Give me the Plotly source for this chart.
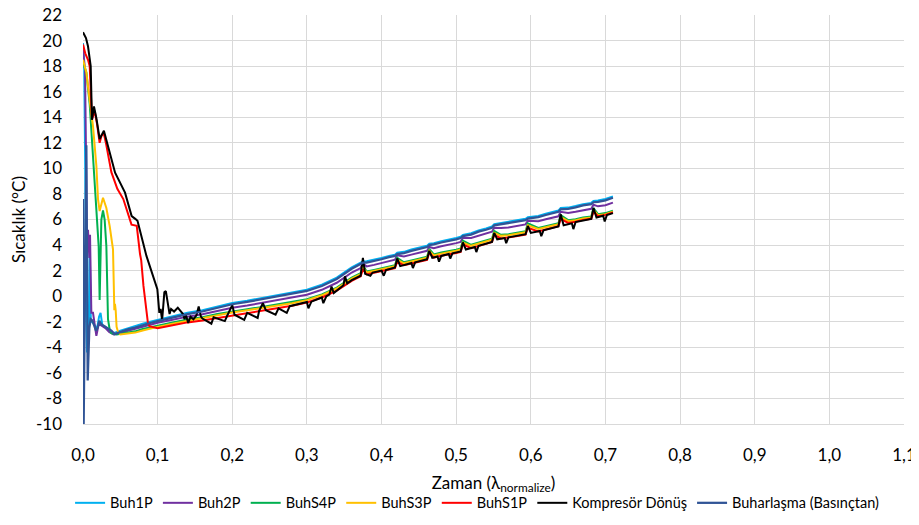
import plotly.graph_objects as go

# ---------------- data ----------------
x_tick_vals = [0.0, 0.1, 0.2, 0.3, 0.4, 0.5, 0.6, 0.7, 0.8, 0.9, 1.0, 1.1]
x_tick_text = ["0,0", "0,1", "0,2", "0,3", "0,4", "0,5", "0,6", "0,7", "0,8", "0,9", "1,0", "1,1"]
y_tick_vals = [-10, -8, -6, -4, -2, 0, 2, 4, 6, 8, 10, 12, 14, 16, 18, 20, 22]
y_tick_text = ["-10", "-8", "-6", "-4", "-2", "0", "2", "4", "6", "8", "10", "12", "14", "16", "18", "20", "22"]

series_names = ["Buh1P", "Buh2P", "BuhS4P", "BuhS3P", "BuhS1P", "Kompresör Dönüş", "Buharlaşma (Basınçtan)"]

# shared time grid for the slowly rising part
t_tail = [0.05, 0.06, 0.07, 0.08, 0.09, 0.10, 0.12, 0.14, 0.16, 0.18,
          0.20, 0.22, 0.24, 0.26, 0.28, 0.30, 0.32, 0.34, 0.36, 0.372,
          0.375, 0.38, 0.39, 0.40, 0.41, 0.418, 0.421, 0.43, 0.44, 0.45,
          0.461, 0.464, 0.47, 0.48, 0.49, 0.50, 0.506, 0.509, 0.52, 0.53,
          0.54, 0.548, 0.551, 0.56, 0.57, 0.58, 0.593, 0.596, 0.61, 0.62,
          0.63, 0.637, 0.640, 0.65, 0.66, 0.67, 0.681, 0.684, 0.69, 0.70,
          0.71]

# Buh1P
buh1p_early_t = [0.0, 0.0015, 0.003, 0.004, 0.0054, 0.0067, 0.0075, 0.009, 0.0105, 0.012,
                 0.016, 0.019, 0.0215, 0.0235, 0.026, 0.03, 0.035, 0.041]
buh1p_early_v = [19.8, 18.5, 10.0, -1.0, -4.4, -2.0, -3.5, 4.0, -2.0, -2.0,
                 -2.3, -2.5, -1.6, -1.3, -2.3, -2.4, -2.7, -2.9]
buh1p_tail = [-2.70, -2.50, -2.35, -2.15, -2.00, -1.85, -1.57, -1.30, -1.10, -0.80,
              -0.53, -0.35, -0.15, 0.05, 0.25, 0.51, 0.90, 1.45, 2.25, 2.60,
              2.72, 2.73, 2.85, 2.99, 3.15, 3.25, 3.40, 3.47, 3.65, 3.80,
              3.95, 4.10, 4.15, 4.30, 4.40, 4.55, 4.65, 4.80, 4.92, 5.15,
              5.30, 5.45, 5.64, 5.72, 5.80, 5.90, 6.05, 6.17, 6.28, 6.45,
              6.60, 6.70, 6.90, 6.93, 7.05, 7.20, 7.30, 7.45, 7.48, 7.60,
              7.80]

# Buh2P
buh2p_early_t = [0.0, 0.0027, 0.004, 0.0054, 0.0067, 0.0085, 0.0094, 0.0112, 0.0134, 0.017,
                 0.0179, 0.021, 0.025, 0.03, 0.035, 0.041]
buh2p_early_v = [19.3, 17.7, 11.3, 3.4, 5.2, 3.0, 4.8, -1.3, -1.3, -2.5,
                 -3.1, -2.2, -2.3, -2.5, -2.8, -3.0]
buh2p_tail = [-2.90, -2.70, -2.55, -2.37, -2.22, -2.08, -1.85, -1.60, -1.42, -1.15,
              -0.90, -0.73, -0.53, -0.33, -0.14, 0.11, 0.50, 1.05, 1.85, 2.20,
              2.55, 2.33, 2.45, 2.59, 2.75, 2.85, 3.20, 3.10, 3.25, 3.40,
              3.55, 3.85, 3.75, 3.90, 4.00, 4.15, 4.25, 4.55, 4.55, 4.75,
              4.90, 5.05, 5.35, 5.33, 5.38, 5.48, 5.62, 5.90, 5.87, 6.02,
              6.17, 6.25, 6.60, 6.50, 6.60, 6.74, 6.84, 7.15, 7.03, 7.12,
              7.32]

# BuhS4P
s4p_early_t = [0.0, 0.0045, 0.009, 0.0112, 0.0134, 0.0156, 0.0192, 0.021, 0.0223, 0.0246,
               0.0268, 0.029, 0.0313, 0.0326, 0.0335, 0.0357, 0.038, 0.045]
s4p_early_v = [18.3, 17.5, 15.0, 13.0, 11.5, 9.7, 6.0, 3.9, -0.3, 6.0,
               6.7, 6.0, 3.9, -0.47, -1.8, -2.6, -2.9, -3.0]
s4p_tail = [-2.95, -2.85, -2.75, -2.57, -2.43, -2.30, -2.05, -1.82, -1.65, -1.40,
            -1.18, -1.02, -0.84, -0.66, -0.48, -0.24, 0.14, 0.67, 1.45, 1.80,
            2.45, 1.93, 2.05, 2.18, 2.33, 2.42, 3.00, 2.65, 2.80, 2.94,
            3.08, 3.70, 3.27, 3.41, 3.50, 3.64, 3.73, 4.35, 4.02, 4.21,
            4.35, 4.50, 5.10, 4.80, 4.85, 4.94, 5.08, 5.70, 5.34, 5.48,
            5.62, 5.71, 6.35, 5.95, 6.03, 6.16, 6.24, 6.90, 6.42, 6.50,
            6.68]

# BuhS3P
s3p_early_t = [0.0, 0.0045, 0.009, 0.0134, 0.0179, 0.0201, 0.0223, 0.0268, 0.0313, 0.0357,
               0.0402, 0.0411, 0.042, 0.0428, 0.0438, 0.045, 0.047]
s3p_early_v = [18.5, 17.5, 15.3, 13.3, 10.2, 7.6, 6.66, 7.7, 6.9, 5.5,
               3.67, -0.5, -1.1, -0.6, -1.1, -2.4, -2.8]
s3p_tail = [-3.00, -2.95, -2.85, -2.68, -2.53, -2.40, -2.15, -1.92, -1.75, -1.50,
            -1.28, -1.10, -0.92, -0.74, -0.55, -0.31, 0.07, 0.60, 1.37, 1.72,
            2.30, 1.85, 1.97, 2.10, 2.25, 2.34, 2.85, 2.57, 2.72, 2.86,
            3.00, 3.55, 3.19, 3.33, 3.42, 3.56, 3.65, 4.20, 3.94, 4.13,
            4.27, 4.42, 4.95, 4.72, 4.77, 4.86, 5.00, 5.55, 5.26, 5.40,
            5.54, 5.63, 6.20, 5.87, 5.95, 6.08, 6.16, 6.75, 6.34, 6.42,
            6.62]

# BuhS1P (tail starts at t = 0.10)
s1p_early_t = [0.0, 0.003, 0.0067, 0.009, 0.012, 0.0156, 0.019, 0.0223, 0.025, 0.028,
               0.031, 0.038, 0.046, 0.054, 0.065, 0.072, 0.0764, 0.078, 0.081, 0.0826,
               0.0845, 0.0857, 0.087, 0.089]
s1p_early_v = [19.7, 19.0, 18.5, 18.0, 13.8, 14.5, 13.4, 12.0, 12.6, 12.7,
               11.9, 9.7, 8.4, 7.6, 5.6, 5.5, 3.3, 2.8, 0.8, 0.0,
               -0.9, -1.45, -2.1, -2.35]
s1p_tail = [-2.50, -2.27, -2.05, -1.90, -1.70,
            -1.53, -1.35, -1.15, -0.95, -0.75, -0.49, -0.10, 0.43, 1.20, 1.55,
            2.10, 1.70, 1.82, 1.95, 2.10, 2.20, 2.70, 2.42, 2.56, 2.70,
            2.84, 3.40, 3.02, 3.16, 3.25, 3.38, 3.47, 4.05, 3.75, 3.95,
            4.09, 4.24, 4.80, 4.52, 4.58, 4.68, 4.82, 5.35, 5.06, 5.22,
            5.38, 5.47, 6.05, 5.73, 5.82, 5.97, 6.06, 6.60, 6.26, 6.36,
            6.55]

# Kompresör Dönüş (own time grid)
komp_t = [0.0, 0.004, 0.0067, 0.0103, 0.012, 0.0147, 0.018, 0.0223, 0.028, 0.033,
          0.038, 0.043, 0.0563, 0.0652, 0.07, 0.073, 0.085, 0.0942, 0.0996, 0.1023,
          0.104, 0.106, 0.1075, 0.109, 0.111, 0.113, 0.116, 0.118, 0.122, 0.127,
          0.13, 0.134, 0.136, 0.138, 0.141, 0.144, 0.148, 0.152, 0.155, 0.158,
          0.16, 0.172, 0.175, 0.19, 0.193, 0.20, 0.203, 0.216, 0.22, 0.234,
          0.236, 0.241, 0.245, 0.258, 0.262, 0.273, 0.277, 0.30, 0.302, 0.306,
          0.32, 0.322, 0.326, 0.33, 0.333, 0.336, 0.349, 0.351, 0.354, 0.36,
          0.372, 0.375, 0.378, 0.385, 0.388, 0.40, 0.403, 0.406, 0.418, 0.421,
          0.425, 0.44, 0.442, 0.445, 0.461, 0.464, 0.468, 0.475, 0.477, 0.48,
          0.49, 0.492, 0.495, 0.506, 0.509, 0.513, 0.525, 0.527, 0.53, 0.548,
          0.551, 0.555, 0.565, 0.567, 0.57, 0.593, 0.596, 0.60, 0.612, 0.614,
          0.617, 0.637, 0.640, 0.644, 0.655, 0.657, 0.66, 0.681, 0.684, 0.688,
          0.697, 0.699, 0.702, 0.71]
komp_v = [20.65, 20.2, 19.55, 18.0, 13.8, 14.85, 13.9, 12.3, 12.95, 11.9,
          10.7, 9.66, 8.1, 6.27, 6.05, 5.9, 3.15, 1.59, 0.55, -1.3,
          -1.0, -1.9, -1.0, 0.3, 0.4, -0.5, -1.4, -1.0, -1.2, -0.9,
          -1.1, -1.4, -1.8, -1.5, -2.1, -1.6, -1.8, -1.5, -0.8, -1.6,
          -1.75, -2.15, -1.65, -1.95, -1.55, -0.7, -1.45, -1.85, -1.30, -1.70,
          -1.15, -0.55, -1.10, -1.45, -0.95, -1.30, -0.78, -0.45, -0.95, -0.43,
          -0.10, -0.55, -0.02, 0.12, 0.75, 0.25, 0.85, 1.55, 1.00, 1.25,
          1.60, 3.00, 1.75, 1.60, 1.85, 2.00, 1.60, 2.05, 2.25, 2.95,
          2.35, 2.60, 2.20, 2.65, 2.90, 3.55, 3.00, 3.10, 2.70, 3.15,
          3.30, 2.95, 3.35, 3.50, 4.20, 3.65, 3.85, 3.45, 3.95, 4.25,
          4.95, 4.45, 4.55, 4.15, 4.60, 4.85, 5.50, 4.95, 5.10, 4.70,
          5.15, 5.45, 6.40, 5.55, 5.70, 5.25, 5.80, 6.05, 6.90, 6.15,
          6.30, 5.85, 6.35, 6.50]

# Buharlaşma (Basınçtan)
buhar_early_t = [0.0, 0.0008, 0.0045, 0.0063, 0.0085, 0.0103, 0.0125, 0.0147, 0.0174, 0.0196,
                 0.0219, 0.0245, 0.031, 0.038, 0.0424]
buhar_early_v = [7.6, -10.6, 11.8, -6.6, -2.5, -1.8, -1.9, -2.2, -2.7, -2.45,
                 -1.93, -2.2, -2.45, -2.7, -2.97]
buhar_tail = [-2.80, -2.60, -2.45, -2.25, -2.10, -1.95, -1.67, -1.40, -1.20, -0.90,
              -0.63, -0.45, -0.25, -0.05, 0.15, 0.41, 0.80, 1.35, 2.15, 2.50,
              2.62, 2.63, 2.75, 2.89, 3.05, 3.15, 3.30, 3.37, 3.55, 3.70,
              3.85, 4.00, 4.05, 4.20, 4.30, 4.45, 4.55, 4.70, 4.82, 5.05,
              5.20, 5.35, 5.54, 5.62, 5.70, 5.80, 5.95, 6.07, 6.18, 6.35,
              6.50, 6.60, 6.80, 6.83, 6.95, 7.10, 7.20, 7.35, 7.38, 7.50,
              7.70]

colors = ["#00B0F0", "#7030A0", "#00B050", "#FFC000", "#FF0000", "#000000", "#305496"]


def join(early_t, early_v, tail_v):
    tt = early_t + t_tail[len(t_tail) - len(tail_v):]
    vv = early_v + tail_v
    return tt, vv


series = [
    join(buh1p_early_t, buh1p_early_v, buh1p_tail),
    join(buh2p_early_t, buh2p_early_v, buh2p_tail),
    join(s4p_early_t, s4p_early_v, s4p_tail),
    join(s3p_early_t, s3p_early_v, s3p_tail),
    join(s1p_early_t, s1p_early_v, s1p_tail),
    (komp_t, komp_v),
    join(buhar_early_t, buhar_early_v, buhar_tail),
]

FONT = "Lato, 'Open Sans', sans-serif"

fig = go.Figure()
for name, (tt, vv), col in zip(series_names, series, colors):
    fig.add_trace(go.Scatter(
        x=tt, y=vv, mode="lines", name=name,
        line=dict(color=col, width=2.25 if name.startswith("Buharla") else 2),
    ))

# the page body has an 8px margin, so the figure is 8px smaller and margins shifted
fig.update_layout(
    width=911, height=517,
    margin=dict(l=75, r=15, t=7, b=100),
    paper_bgcolor="white", plot_bgcolor="white",
    font=dict(family=FONT, size=16, color="#000000"),
    showlegend=True,
    legend=dict(orientation="h", x=0.48, xanchor="center",
                y=-0.19, yanchor="middle",
                font=dict(family=FONT, size=14.5, color="#000000"),
                itemwidth=30, tracegroupgap=0, bgcolor="rgba(0,0,0,0)"),
    hovermode=False,
)
fig.update_xaxes(
    range=[0, 1.1], tickvals=x_tick_vals, ticktext=x_tick_text,
    showgrid=True, gridcolor="#D9D9D9", gridwidth=1,
    showline=True, linecolor="#D9D9D9", linewidth=1,
    zeroline=False, ticks="", ticklabelstandoff=16, automargin=False,
    ticklabeloverflow="allow",
    tickfont=dict(family=FONT, size=17, color="#000000"),
    title=dict(text="Zaman (λ<sub>normalize</sub>)", standoff=12,
               font=dict(family=FONT, size=17, color="#000000")),
)
fig.update_yaxes(
    range=[-10, 22], tickvals=y_tick_vals, ticktext=y_tick_text,
    showgrid=True, gridcolor="#D9D9D9", gridwidth=1,
    showline=False, zeroline=False, ticks="", ticklabelstandoff=20, automargin=False,
    ticklabeloverflow="allow",
    tickfont=dict(family=FONT, size=17, color="#000000"),
    title=dict(text="Sıcaklık (°C)", standoff=10,
               font=dict(family=FONT, size=17, color="#000000")),
)

fig.write_html("out.html")
